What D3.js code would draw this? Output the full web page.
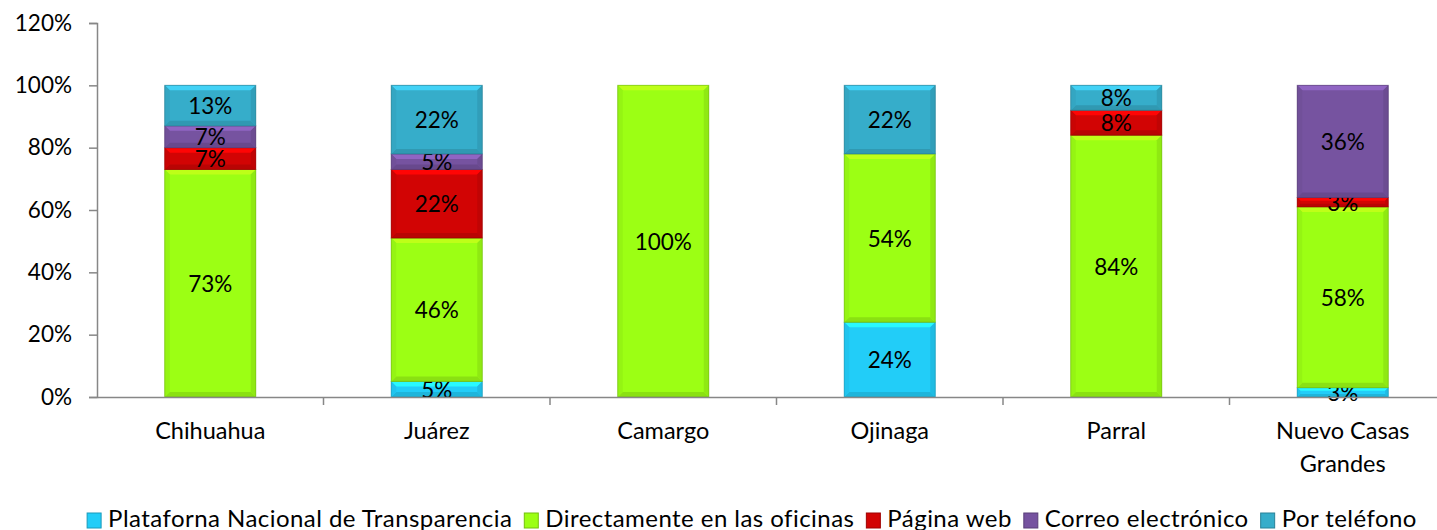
<!DOCTYPE html>
<html>
<head>
<meta charset="utf-8">
<script src="https://cdn.jsdelivr.net/npm/d3@7"></script>
<style>
  html, body { margin: 0; padding: 0; background: #fff; overflow: hidden; }
  svg { display: block; font-family: Lato, "Open Sans", sans-serif; }
</style>
</head>
<body>
<svg id="chart" width="1437" height="530"></svg>
<script>
const categories = ["Chihuahua", "Juárez", "Camargo", "Ojinaga", "Parral", "Nuevo Casas Grandes"];
const seriesNames = ["Plataforna Nacional de Transparencia", "Directamente en las oficinas", "Página web", "Correo electrónico", "Por teléfono"];
const plataforma   = [0, 5, 0, 24, 0, 3];
const directamente = [73, 46, 100, 54, 84, 58];
const paginaWeb    = [7, 22, 0, 0, 8, 3];
const correo       = [7, 5, 0, 0, 0, 36];
const telefono     = [13, 22, 0, 22, 8, 0];
const yTicks = [0, 20, 40, 60, 80, 100, 120];
const colors = ["#22CDF8", "#9CFF14", "#D20404", "#7653A0", "#36ADCA"];

const seriesValues = [plataforma, directamente, paginaWeb, correo, telefono];
const svg = d3.select("#chart");

const x = d3.scaleBand().domain(categories).range([97, 1456]).paddingInner(0.598).paddingOuter(0.299);
const y = d3.scaleLinear().domain([0, 120]).range([397, 23]);

const table = categories.map((c, i) => {
  const row = { cat: c };
  seriesNames.forEach((s, j) => row[s] = seriesValues[j][i]);
  return row;
});
const stacked = d3.stack().keys(seriesNames)(table);

// axes
const axisColor = "#878787";
const yAxis = svg.append("g").attr("transform", "translate(97,0)")
  .call(d3.axisLeft(y).tickValues(yTicks).tickFormat(d => d + "%").tickSize(8).tickPadding(17));
yAxis.select(".domain").attr("stroke", axisColor).attr("stroke-width", 1.5);
yAxis.selectAll(".tick line").attr("stroke", axisColor).attr("stroke-width", 1.5);
yAxis.selectAll(".tick text").attr("font-size", 22.5).attr("fill", "#000").attr("font-family", "Lato, sans-serif");

// bars
const bevel = (x0, y0, w, h) => Math.max(0, Math.min(5, h / 3, w / 3));
stacked.forEach((layer, j) => {
  const base = d3.color(colors[j]);
  const g = svg.append("g");
  layer.forEach((d, i) => {
    if (d[1] - d[0] <= 0) return;
    const x0 = x(categories[i]), w = x.bandwidth();
    const y0 = y(d[1]), y1 = y(d[0]), h = y1 - y0;
    const b = bevel(x0, y0, w, h);
    g.append("rect").attr("x", x0).attr("y", y0).attr("width", w).attr("height", h)
      .attr("fill", base.formatHex());
    g.append("polygon").attr("points", [[x0, y0], [x0 + w, y0], [x0 + w - b, y0 + b], [x0 + b, y0 + b]].join(" "))
      .attr("fill", base.brighter(0.55).formatHex());
    g.append("polygon").attr("points", [[x0, y1], [x0 + w, y1], [x0 + w - b, y1 - b], [x0 + b, y1 - b]].join(" "))
      .attr("fill", base.darker(0.35).formatHex());
    g.append("polygon").attr("points", [[x0, y0], [x0 + b, y0 + b], [x0 + b, y1 - b], [x0, y1]].join(" "))
      .attr("fill", base.darker(0.12).formatHex());
    g.append("polygon").attr("points", [[x0 + w, y0], [x0 + w - b, y0 + b], [x0 + w - b, y1 - b], [x0 + w, y1]].join(" "))
      .attr("fill", base.darker(0.25).formatHex());
    g.append("rect").attr("x", x0).attr("y", y0).attr("width", w).attr("height", h)
      .attr("fill", "none").attr("stroke", base.darker(1.0).formatHex()).attr("stroke-opacity", 0.6).attr("stroke-width", 1);
    g.append("text").attr("x", x0 + w / 2).attr("y", (y0 + y1) / 2)
      .attr("text-anchor", "middle").attr("dominant-baseline", "central")
      .attr("font-size", 22.5).attr("fill", "#000")
      .text((d[1] - d[0]) + "%");
  });
});

// x axis
const xAxis = svg.append("g").attr("transform", "translate(0,397)")
  .call(d3.axisBottom(x).tickSize(0).tickPadding(25));
xAxis.select(".domain").attr("stroke", axisColor).attr("stroke-width", 1.5);
xAxis.selectAll(".tick text").attr("font-size", 23.5).attr("fill", "#000").attr("font-family", "Lato, sans-serif")
  .each(function (d) {
    const t = d3.select(this);
    if (d === "Nuevo Casas Grandes") {
      const dy = t.attr("dy");
      t.text(null);
      t.append("tspan").attr("x", 0).attr("dy", dy).text("Nuevo Casas");
      t.append("tspan").attr("x", 0).attr("dy", "1.4em").text("Grandes");
    }
  });
const step = x.step();
const boundaries = categories.map((c, i) => x(c) - step * x.paddingInner() / 2).slice(1);
xAxis.selectAll(".bound").data(boundaries).join("line").attr("class", "bound")
  .attr("x1", d => d).attr("x2", d => d).attr("y1", 0).attr("y2", 8)
  .attr("stroke", axisColor).attr("stroke-width", 1.5);

// legend
const legend = svg.append("g").attr("transform", "translate(0,527)");
const items = legend.selectAll("g").data(seriesNames).join("g");
items.append("text").attr("x", 21).attr("y", 0)
  .attr("font-size", 24).attr("letter-spacing", 0.45).attr("fill", "#000").text(d => d);
items.append("rect").attr("x", 0).attr("y", -14).attr("width", 14).attr("height", 15)
  .attr("fill", (d, i) => colors[i]).attr("stroke", (d, i) => d3.color(colors[i]).darker(0.8).formatHex()).attr("stroke-width", 1);
const widths = [];
items.each(function () { widths.push(this.getBBox().width); });
const gap = 12;
const total = d3.sum(widths) + gap * (widths.length - 1);
let cx = 752 - total / 2;
items.attr("transform", (d, i) => { const t = `translate(${cx},0)`; cx += widths[i] + gap; return t; });
</script>
</body>
</html>
